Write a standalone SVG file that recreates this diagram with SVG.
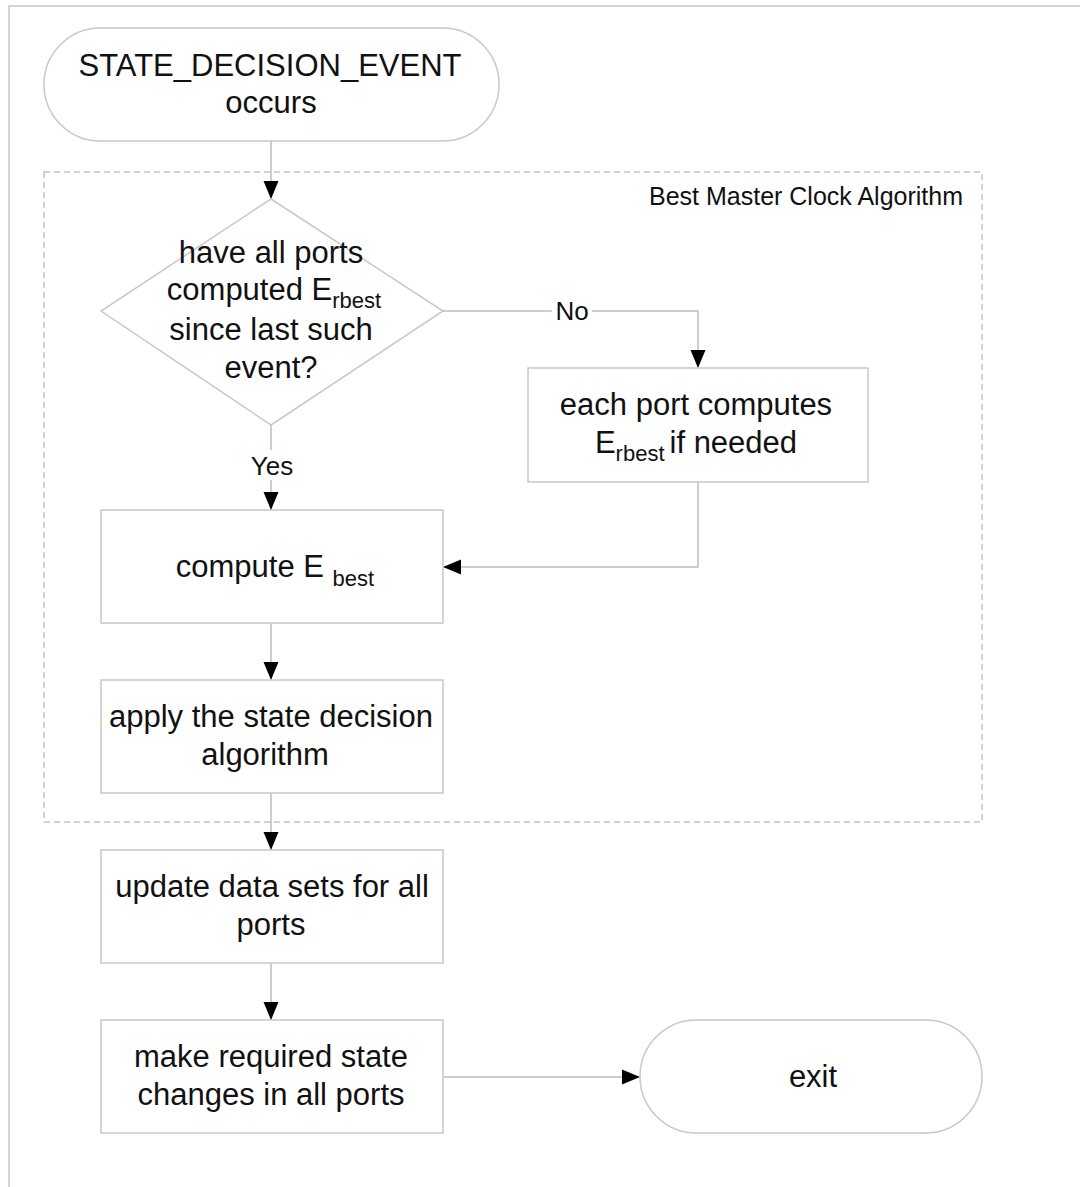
<svg xmlns="http://www.w3.org/2000/svg" width="1080" height="1187" viewBox="0 0 1080 1187">
<defs>
<marker id="arr" markerWidth="18" markerHeight="16" refX="18" refY="8" orient="auto" markerUnits="userSpaceOnUse">
<path d="M0,0.5 L18,8 L0,15.5 Z" fill="#000"/>
</marker>
<style>
.shape{fill:#fff;stroke:#c8c8c8;stroke-width:1.5}
.edge{fill:none;stroke:#bdbdbd;stroke-width:1.5}
.t{font-family:"Liberation Sans",Arial,sans-serif;font-size:31px;fill:#111;text-anchor:middle}
.lbl{font-family:"Liberation Sans",Arial,sans-serif;font-size:26px;fill:#111;text-anchor:middle}
.sub{font-size:22px}
</style>
</defs>
<rect width="1080" height="1187" fill="#fff"/>
<path d="M9,1187 L9,6 L1080,6" fill="none" stroke="#c8c8c8" stroke-width="1.5"/>
<g id="bmca-frame">
<rect x="44" y="172" width="938" height="650" fill="none" stroke="#c4c4c4" stroke-width="1.5" stroke-dasharray="6,4"/>
<text x="963" y="205" class="lbl" style="text-anchor:end;font-size:25px">Best Master Clock Algorithm</text>
</g>
<g id="connectors">
<line class="edge" x1="271" y1="141" x2="271" y2="199" marker-end="url(#arr)"/>
<path class="edge" d="M443,311 L698,311 L698,368" marker-end="url(#arr)"/>
<rect x="552" y="294" width="40" height="30" fill="#fff"/>
<text x="572" y="320" class="lbl">No</text>
<path class="edge" d="M698,482 L698,567 L443,567" marker-end="url(#arr)"/>
<line class="edge" x1="271" y1="425" x2="271" y2="510" marker-end="url(#arr)"/>
<rect x="246" y="450" width="52" height="30" fill="#fff"/>
<text x="272" y="475" class="lbl">Yes</text>
<line class="edge" x1="271" y1="623" x2="271" y2="680" marker-end="url(#arr)"/>
<line class="edge" x1="271" y1="793" x2="271" y2="850" marker-end="url(#arr)"/>
<line class="edge" x1="271" y1="963" x2="271" y2="1020" marker-end="url(#arr)"/>
<line class="edge" x1="443" y1="1077" x2="640" y2="1077" marker-end="url(#arr)"/>
</g>
<g id="start">
<rect class="shape" x="44" y="28" width="455" height="113" rx="56.5" ry="56.5"/>
<text x="270" y="76" class="t">STATE_DECISION_EVENT</text>
<text x="271" y="113" class="t">occurs</text>
</g>
<g id="decision">
<polygon class="shape" points="271,199 443,311 271,425 101,311"/>
<text x="271" y="263" class="t">have all ports</text>
<text x="274" y="300" class="t">computed E<tspan class="sub" dy="8">rbest</tspan></text>
<text x="271" y="340" class="t">since last such</text>
<text x="271" y="378" class="t">event?</text>
</g>
<g id="each-port">
<rect class="shape" x="528" y="368" width="340" height="114"/>
<text x="696" y="415" class="t">each port computes</text>
<text x="696" y="453" class="t">E<tspan class="sub" dy="8">rbest</tspan><tspan dx="5" dy="-8">if needed</tspan></text>
</g>
<g id="compute-ebest">
<rect class="shape" x="101" y="510" width="342" height="113"/>
<text x="275" y="577" class="t">compute E <tspan class="sub" dy="9">best</tspan></text>
</g>
<g id="apply">
<rect class="shape" x="101" y="680" width="342" height="113"/>
<text x="271" y="727" class="t">apply the state decision</text>
<text x="265" y="765" class="t">algorithm</text>
</g>
<g id="update">
<rect class="shape" x="101" y="850" width="342" height="113"/>
<text x="272" y="897" class="t">update data sets for all</text>
<text x="271" y="935" class="t">ports</text>
</g>
<g id="make-changes">
<rect class="shape" x="101" y="1020" width="342" height="113"/>
<text x="271" y="1067" class="t">make required state</text>
<text x="271" y="1105" class="t">changes in all ports</text>
</g>
<g id="exit">
<rect class="shape" x="640" y="1020" width="342" height="113" rx="56.5" ry="56.5"/>
<text x="813" y="1087" class="t">exit</text>
</g>
</svg>
